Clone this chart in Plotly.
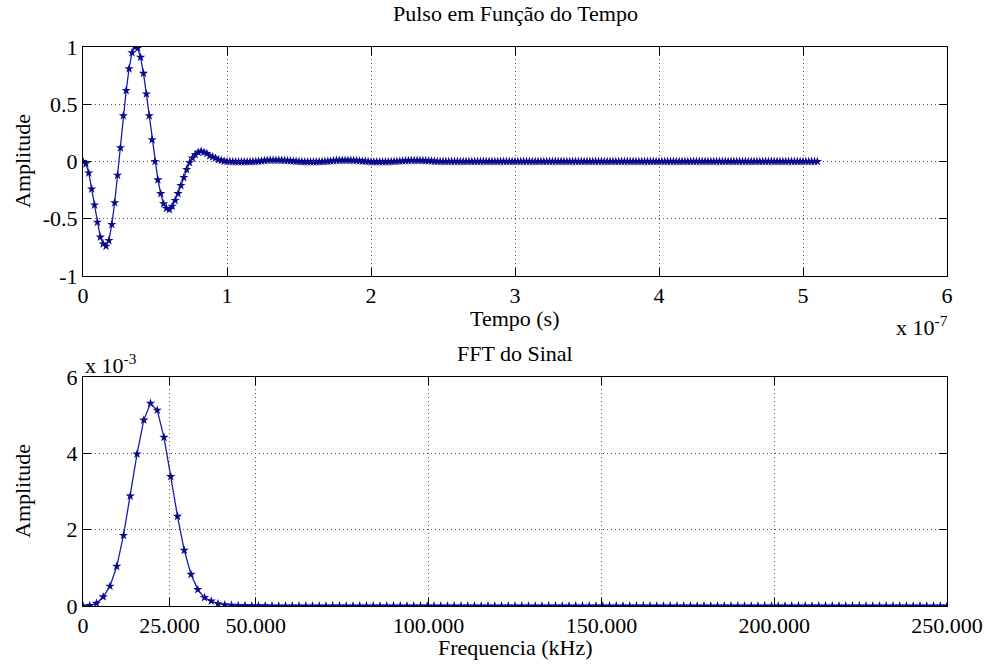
import numpy as np
import plotly.graph_objects as go
from plotly.subplots import make_subplots

# ---------------- data ----------------
dt = 2e-9  # sampling interval (s)

pulse_amp = [
    0.0, -0.02, -0.10, -0.24, -0.38, -0.53, -0.66, -0.72, -0.74, -0.69,
    -0.55, -0.36, -0.12, 0.12, 0.40, 0.62, 0.81, 0.95, 1.00, 0.99,
    0.91, 0.77, 0.59, 0.40, 0.19, 0.00, -0.16, -0.28, -0.37, -0.41,
    -0.42, -0.39, -0.34, -0.28, -0.21, -0.14, -0.07, -0.01, 0.03, 0.06,
    0.08, 0.09, 0.08, 0.07, 0.05, 0.04, 0.03, 0.015, 0.01, 0.004,
    0.0,
    0.0, -0.002, -0.003, -0.003, -0.003, -0.003, -0.003, -0.002, -0.001, 0.0, 0.002,
    0.005, 0.008, 0.01, 0.011, 0.011, 0.011, 0.011, 0.01, 0.009, 0.008, 0.006, 0.004, 0.002,
    0.0, -0.002, -0.003, -0.003, -0.003, -0.003, -0.003, -0.002, -0.001, 0.0, 0.002, 0.004,
    0.007, 0.009, 0.01, 0.01, 0.01, 0.01, 0.01, 0.009, 0.008, 0.006, 0.004, 0.002,
    0.0, -0.002, -0.003, -0.003, -0.003, -0.003, -0.003, -0.002, -0.001, 0.0, 0.001, 0.003, 0.005,
    0.007, 0.008, 0.009, 0.009, 0.009, 0.009, 0.008, 0.007, 0.006, 0.004, 0.002, 0.001,
    0, 0, 0, 0, 0, 0, 0, 0, 0, 0, 0, 0,
    0, 0, 0, 0, 0, 0, 0, 0, 0, 0, 0, 0,
    0, 0, 0, 0, 0, 0, 0, 0, 0, 0, 0, 0,
    0, 0, 0, 0, 0, 0, 0, 0, 0, 0, 0, 0,
    0, 0, 0, 0, 0, 0, 0, 0, 0, 0, 0, 0,
    0, 0, 0, 0, 0, 0, 0, 0, 0, 0, 0, 0,
    0, 0, 0, 0, 0, 0, 0, 0, 0, 0, 0, 0,
    0, 0, 0, 0, 0, 0, 0, 0, 0, 0, 0, 0,
    0, 0, 0, 0, 0, 0, 0, 0, 0, 0, 0, 0,
    0, 0, 0, 0, 0, 0, 0, 0, 0, 0, 0, 0,
    0, 0, 0, 0, 0, 0, 0, 0, 0, 0, 0, 0,
]

# FFT magnitude in units of 1e-3
fft_amp_milli = [
    0.0, 0.01, 0.07, 0.24, 0.52, 1.04, 1.85, 2.88, 3.98, 4.87,
    5.31, 5.13, 4.42, 3.39, 2.35, 1.46, 0.83, 0.43, 0.22, 0.13,
    0.06, 0.03, 0.02, 0.01, 0.01, 0.005,
    0.004, 0.004, 0.003, 0.003, 0.003, 0.002, 0.002, 0.002, 0.002, 0.001,
    0.001, 0.001, 0.001, 0.001, 0.001, 0.001, 0.001, 0.001, 0.001, 0.001, 0.001, 0.001, 0.001,
    0, 0, 0, 0, 0, 0, 0, 0, 0, 0,
    0, 0, 0, 0, 0, 0, 0, 0, 0, 0,
    0, 0, 0, 0, 0, 0, 0, 0, 0, 0,
    0, 0, 0, 0, 0, 0, 0, 0, 0, 0,
    0, 0, 0, 0, 0, 0, 0, 0, 0, 0,
    0, 0, 0, 0, 0, 0, 0, 0, 0, 0,
    0, 0, 0, 0, 0, 0, 0, 0, 0, 0,
    0, 0, 0, 0, 0, 0, 0, 0, 0, 0,
]

time_ticks = [0, 1e-7, 2e-7, 3e-7, 4e-7, 5e-7, 6e-7]
time_ticktext = ["0", "1", "2", "3", "4", "5", "6"]
amp_ticks = [-1, -0.5, 0, 0.5, 1]
amp_ticktext = ["-1", "-0.5", "0", "0.5", "1"]
freq_ticks = [0, 25000, 50000, 100000, 150000, 200000, 250000]
freq_ticktext = ["0", "25.000", "50.000", "100.000", "150.000", "200.000", "250.000"]
fft_ticks = [0, 0.002, 0.004, 0.006]
fft_ticktext = ["0", "2", "4", "6"]

# ---------------- derived ----------------
N = len(pulse_amp)
t = np.arange(N) * dt
fs_khz = 1.0 / dt / 1000.0
freq = np.arange(len(fft_amp_milli)) * fs_khz / N
fft_amp = np.array(fft_amp_milli) * 1e-3

FONT = "Liberation Serif"
LINE_C = "#1a1ab0"
MARK_C = "#0a0a8a"

fig = make_subplots(rows=2, cols=1)

fig.add_trace(go.Scatter(
    x=t, y=pulse_amp, mode="lines+markers",
    line=dict(color=LINE_C, width=1.3),
    marker=dict(symbol="star", size=7, color=MARK_C, line=dict(width=0)),
    showlegend=False), row=1, col=1)

fig.add_trace(go.Scatter(
    x=freq, y=fft_amp, mode="lines+markers",
    line=dict(color=LINE_C, width=1.3),
    marker=dict(symbol="star", size=7, color=MARK_C, line=dict(width=0)),
    showlegend=False), row=2, col=1)

W, H = 989, 664
L, R, T, B = 83, 42, 47, 58
ph = H - T - B  # 559


def py(Y):
    return (H - B - Y) / ph


def px(X):
    return (X - L) / (W - L - R)


axis_common = dict(
    showline=True, linecolor="black", linewidth=1, mirror="allticks",
    ticks="inside", ticklen=8, tickcolor="black", tickwidth=1,
    showgrid=True, gridcolor="#555555", gridwidth=1, griddash="1px,3px",
    zeroline=False,
    tickfont=dict(family=FONT, size=22, color="black"),
)

fig.update_xaxes(**axis_common)
fig.update_yaxes(**axis_common)

fig.update_xaxes(range=[0, 6e-7], tickvals=time_ticks, ticktext=time_ticktext,
                 domain=[0, 1], row=1, col=1)
fig.update_yaxes(range=[-1, 1], tickvals=amp_ticks, ticktext=amp_ticktext,
                 domain=[py(276), 1.0], row=1, col=1)
fig.update_xaxes(range=[0, 250000], tickvals=freq_ticks, ticktext=freq_ticktext,
                 domain=[0, 1], row=2, col=1)
fig.update_yaxes(range=[0, 0.006], tickvals=fft_ticks, ticktext=fft_ticktext,
                 domain=[0, py(377)], row=2, col=1)

txt = dict(family=FONT, size=22, color="black")
ann = [
    dict(text="Pulso em Função do Tempo", x=0.5, y=py(14), xanchor="center", yanchor="middle"),
    dict(text="Tempo (s)", x=0.5, y=py(318), xanchor="center", yanchor="middle"),
    dict(text="x 10<sup>-7</sup>", x=px(950), y=py(326), xanchor="right", yanchor="middle"),
    dict(text="FFT do Sinal", x=0.5, y=py(353), xanchor="center", yanchor="middle"),
    dict(text="x 10<sup>-3</sup>", x=px(83), y=py(364), xanchor="left", yanchor="middle"),
    dict(text="Frequencia (kHz)", x=0.5, y=py(647), xanchor="center", yanchor="middle"),
    dict(text="Amplitude", x=px(22), y=py(161), xanchor="center", yanchor="middle", textangle=-90),
    dict(text="Amplitude", x=px(22), y=py(491), xanchor="center", yanchor="middle", textangle=-90),
]
for a in ann:
    a.update(xref="paper", yref="paper", showarrow=False, font=txt)

fig.update_layout(
    width=W, height=H,
    margin=dict(l=L, r=R, t=T, b=B, autoexpand=False),
    paper_bgcolor="white", plot_bgcolor="white",
    annotations=ann,
    font=dict(family=FONT, size=22, color="black"),
)

fig.write_html("out.html", include_plotlyjs=True)
